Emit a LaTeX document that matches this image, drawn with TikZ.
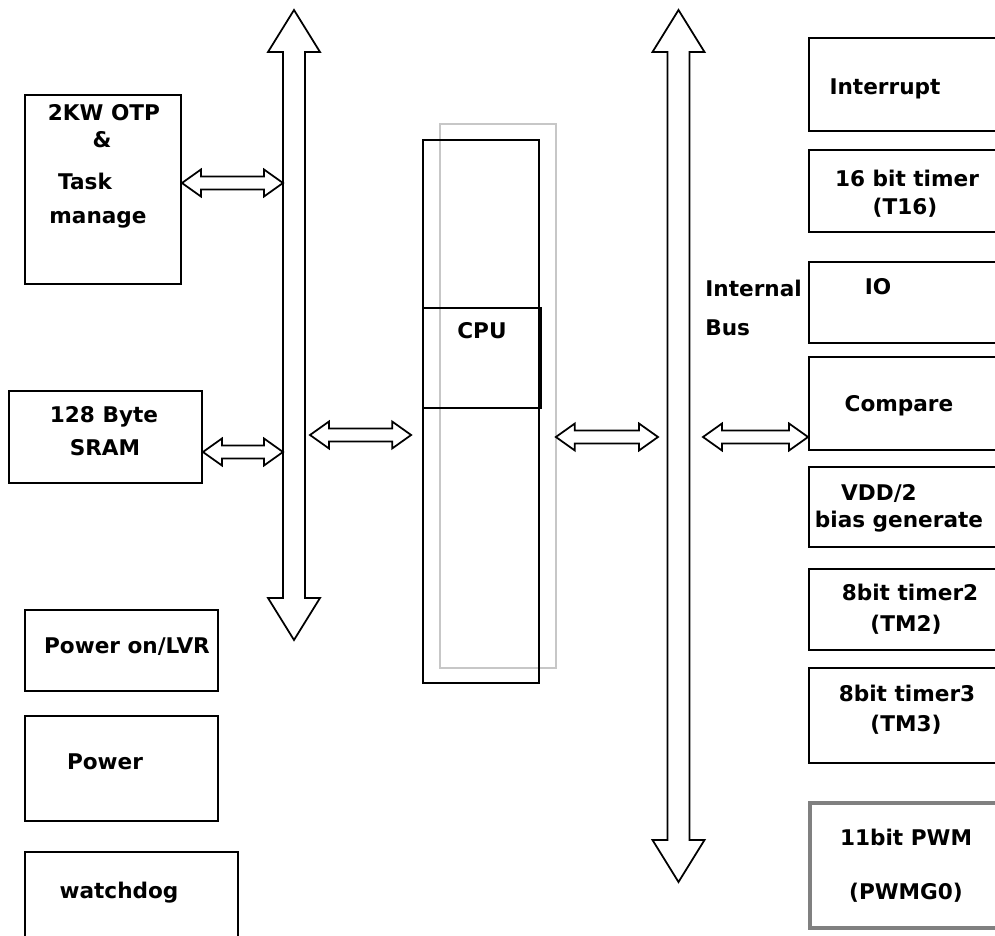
\documentclass[tikz,border=0pt]{standalone}
\usepackage{fontspec}
\setmainfont{DejaVu Sans}
\usepackage{tikz}
\usetikzlibrary{calc}
\usetikzlibrary{positioning}

\tikzset{
  box/.style={draw, line width=1.1pt, inner sep=0pt},
  lbl/.style={font=\bfseries\fontsize{12.3}{14}\selectfont, inner sep=0pt},
  blockarrow/.style={draw, line width=1pt, fill=white, line join=miter}
}
% horizontal double block arrow: left tip, right tip (y taken from the left tip)
\newcommand{\dblarrow}[2]{%
  \draw[blockarrow] let \p1=(#1), \p2=(#2) in
    (\x1,\y1) -- ++(0.38cm,0.27cm) -- ++(0,-0.14cm) -- (\x2-0.38cm,\y1+0.13cm)
    -- ++(0,0.14cm) -- (\x2,\y1) -- ++(-0.38cm,-0.27cm) -- ++(0,0.14cm)
    -- (\x1+0.38cm,\y1-0.13cm) -- ++(0,-0.14cm) -- cycle;}
% vertical bus arrow: top tip, bottom tip
\newcommand{\busarrow}[2]{%
  \draw[blockarrow] let \p1=(#1), \p2=(#2) in
    (\x1,\y1) -- ++(0.52cm,-0.84cm) -- ++(-0.3cm,0) -- (\x1+0.22cm,\y2+0.84cm)
    -- ++(0.3cm,0) -- (\x1,\y2) -- ++(-0.52cm,0.84cm) -- ++(0.3cm,0)
    -- (\x1-0.22cm,\y1-0.84cm) -- ++(-0.3cm,0) -- cycle;}

\begin{document}
\begin{tikzpicture}[x=0.02cm, y=-0.02cm]
		\useasboundingbox (0,0) rectangle (995,936);
		% CPU core
		\node[draw, color=black!22, line width=0.7pt, minimum width=2.32cm, minimum height=10.88cm] (shadow) at (498,396) {};
		\node[box, line width=1pt, minimum width=2.32cm, minimum height=10.86cm] (core) at (481,411.5) {};
		\node[box, minimum width=2.36cm, minimum height=2cm] (cpu) at (482,358) {};
		\node[lbl] (cpu-t) at (482,331) {CPU};

		% left column
		\node[box, minimum width=3.12cm, minimum height=3.78cm] (otp) at (103,189.5) {};
		\node[lbl] (otp-a) at (104,113) {2KW OTP};
		\node[lbl] (otp-b) at (102,140) {\&};
		\node[lbl] (otp-c) at (85,181) {Task};
		\node[lbl] (otp-d) at (98,220) {manage};
		\node[box, minimum width=3.86cm, minimum height=1.84cm] (sram) at (105.5,437) {};
		\node[lbl] (sram-a) at (104,417) {128 Byte};
		\node[lbl] (sram-b) at (105,448) {SRAM};
		\node[box, minimum width=3.86cm, minimum height=1.62cm] (lvr) at (121.5,650.5) {};
		\node[lbl] (lvr-t) at (127,647) {Power on/LVR};
		\node[box, minimum width=3.86cm, minimum height=2.1cm] (pwr) at (121.5,768.5) {};
		\node[lbl] (pwr-t) at (105,762) {Power};
		\node[box, minimum width=4.26cm, minimum height=2.16cm] (wdog) at (131.5,906) {};
		\node[lbl] (wdog-t) at (119,893) {watchdog};

		% right column
		\node[box, minimum width=4.02cm, minimum height=1.86cm] (irq) at (909.5,84.5) {};
		\node[lbl] (irq-t) at (885,89) {Interrupt};
		\node[box, minimum width=4.02cm, minimum height=1.64cm] (t16) at (909.5,191) {};
		\node[lbl] (t16-a) at (907,178) {16 bit timer};
		\node[lbl] (t16-b) at (905,208) {(T16)};
		\node[box, minimum width=4.02cm, minimum height=1.62cm] (io) at (909.5,302.5) {};
		\node[lbl] (io-t) at (878,287) {IO};
		\node[box, minimum width=4.02cm, minimum height=1.86cm] (cmp) at (909.5,403.5) {};
		\node[lbl] (cmp-t) at (899,406) {Compare};
		\node[box, minimum width=4.02cm, minimum height=1.6cm] (vdd) at (909.5,507) {};
		\node[lbl] (vdd-a) at (879,493) {VDD/2};
		\node[lbl] (vdd-b) at (899,522) {bias generate};
		\node[box, minimum width=4.02cm, minimum height=1.62cm] (tm2) at (909.5,609.5) {};
		\node[lbl] (tm2-a) at (910,592) {8bit timer2};
		\node[lbl] (tm2-b) at (906,625) {(TM2)};
		\node[box, minimum width=4.02cm, minimum height=1.9cm] (tm3) at (909.5,715.5) {};
		\node[lbl] (tm3-a) at (907,693) {8bit timer3};
		\node[lbl] (tm3-b) at (906,725) {(TM3)};
		\node[box, draw=black!50, line width=2.2pt, minimum width=4cm, minimum height=2.5cm] (pwm) at (910,865.5) {};
		\node[lbl] (pwm-a) at (906,837) {11bit PWM};
		\node[lbl] (pwm-b) at (906,893) {(PWMG0)};

		\node[lbl, anchor=west] (bus-a) at (705,288) {Internal};
		\node[lbl, anchor=west] (bus-b) at (705,328) {Bus};

		% buses
		\coordinate (lbus-top) at (294,10);
		\coordinate (lbus-bot) at (294,640);
		\coordinate (rbus-top) at (678.5,10);
		\coordinate (rbus-bot) at (678.5,882);
		\coordinate (lbus-l) at (283,435);
		\coordinate (lbus-r) at (305,435);
		\coordinate (rbus-l) at (667,437);
		\coordinate (rbus-r) at (690,437);
		\busarrow{lbus-top}{lbus-bot}
		\busarrow{rbus-top}{rbus-bot}

		% links
		\dblarrow{[yshift=0.13cm]otp.east}{lbus-l}
		\dblarrow{[yshift=-0.3cm]sram.east}{lbus-l}
		\dblarrow{[xshift=0.1cm]lbus-r}{[xshift=-0.22cm]core.west}
		\dblarrow{[xshift=0.32cm,yshift=-0.51cm]core.east}{[xshift=-0.18cm]rbus-l}
		\dblarrow{[xshift=0.26cm]rbus-r}{cmp.west}
	\end{tikzpicture}
\end{document}
